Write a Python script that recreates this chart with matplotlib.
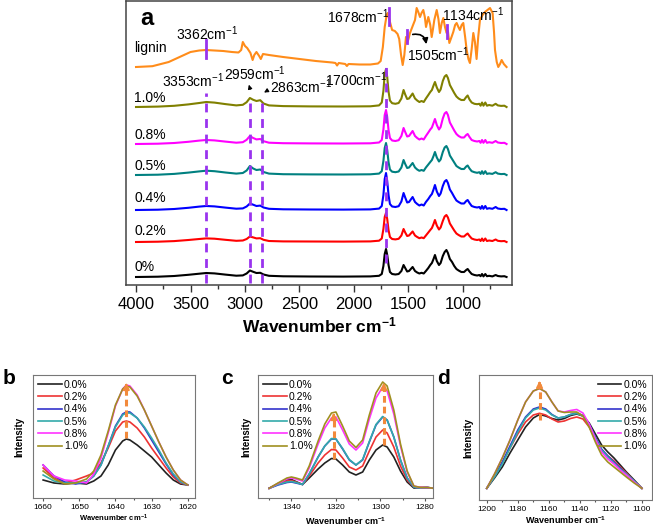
import numpy as np
import matplotlib
matplotlib.use("Agg")
import matplotlib.pyplot as plt
from matplotlib.ticker import MultipleLocator

plt.rcParams['font.family'] = ['Liberation Sans', 'DejaVu Sans']
plt.rcParams['mathtext.fontset'] = 'custom'
plt.rcParams['mathtext.rm'] = 'Liberation Sans'
plt.rcParams['mathtext.it'] = 'Liberation Sans:italic'
plt.rcParams['mathtext.bf'] = 'Liberation Sans:bold'
plt.rcParams['mathtext.default'] = 'regular'

# ---- panel a: stacked FTIR spectra (heights) ----
poly_wn = [4000, 3800, 3650, 3520, 3420, 3355, 3280, 3180, 3080, 3020,
           2985, 2955, 2925, 2895, 2860, 2830, 2780, 2650, 2400, 2100,
           1850, 1770, 1745, 1730, 1718, 1706, 1695, 1683, 1670, 1650,
           1620, 1590, 1565, 1545, 1530, 1512, 1495, 1462, 1440, 1420,
           1400, 1380, 1360, 1340, 1318, 1300, 1285, 1270, 1257, 1240,
           1220, 1205, 1185, 1168, 1152, 1138, 1120, 1100, 1080, 1060,
           1040, 1015, 990, 970, 957, 940, 920, 895, 870, 850,
           838, 825, 812, 795, 780, 760, 730, 700, 680, 650,
           620, 600]
p0 = [0, 0.3, 1.0, 2.2, 3.3, 4.0, 3.6, 2.4, 1.3, 1.6,
      3.5, 6.5, 5.2, 4.0, 4.2, 2.5, 1.2, 0.7, 0.5, 0.4,
      0.6, 1.2, 3, 11, 23, 28, 22, 12, 5, 3,
      2.5, 3, 6, 12, 9, 5.5, 6, 10, 6, 4.5,
      3.5, 4.2, 3.5, 6, 9, 12, 14, 18, 22, 16,
      12, 14, 21, 25, 27, 24, 18, 15, 11, 8,
      6.5, 5, 5, 7, 8, 5.5, 3, 2, 1.5, 2,
      0.8, 3, 0.6, 3, 0.8, 1.2, 0.6, 2, 1, 0.6,
      0.8, 0]
p2 = [0, 0.3, 0.9, 2.0, 3.0, 3.6, 3.3, 2.2, 1.2, 1.5,
      3.0, 5.5, 4.6, 3.6, 3.8, 2.2, 1.0, 0.6, 0.5, 0.4,
      0.6, 1.3, 3.5, 13, 25, 29, 23, 12, 5, 3,
      2.6, 3.2, 6.5, 13, 9.5, 6, 6.5, 10.5, 6.5, 5,
      3.8, 4.5, 3.8, 6.5, 9.5, 12, 14, 18, 22, 16.5,
      12.5, 14.5, 21, 25.5, 27, 24.5, 18.5, 15, 11.5, 8.5,
      7, 5.5, 5.5, 7.5, 8.5, 6, 3.5, 2.5, 2, 2.5,
      1, 3.5, 1, 3.5, 1, 1.5, 1, 2.5, 1.2, 0.8,
      1, 0]
p4 = [0, 0.3, 1.0, 2.2, 3.4, 4.0, 3.6, 2.4, 1.3, 1.6,
      3.5, 6.5, 5.3, 4.0, 4.4, 2.5, 1.2, 0.7, 0.5, 0.4,
      0.6, 1.4, 4, 15, 31, 37, 29, 15, 6, 3.5,
      3, 3.8, 8.5, 17, 12.5, 7.5, 8, 13, 8, 6,
      4.5, 5.5, 4.5, 8, 11, 14, 16, 20.5, 25, 18.5,
      14, 16.5, 24, 28.5, 30, 27, 20.5, 17, 13, 9.5,
      8, 6.5, 6.5, 9, 10, 7, 4, 3, 2.5, 3,
      1.2, 4, 1.2, 4, 1.2, 1.8, 1.2, 3, 1.5, 1,
      1.2, 0]
p5 = [0, 0.3, 1.1, 2.4, 3.6, 4.3, 3.8, 2.5, 1.4, 2.0,
      4.5, 9, 6.5, 5.0, 5.5, 3.0, 1.4, 0.8, 0.6, 0.5,
      0.7, 1.4, 3.8, 14, 27, 32, 25, 13, 5.5, 3.3,
      2.8, 3.5, 7.5, 15, 11, 7, 7.5, 12, 7.5, 5.5,
      4.2, 5, 4.2, 7.5, 10.5, 13, 15, 19, 23, 17.5,
      13.5, 15.5, 23, 27.5, 29, 26, 19.5, 16, 12.5, 9,
      7.5, 6, 6, 8.5, 9.5, 6.5, 3.8, 2.8, 2.2, 2.8,
      1.1, 3.8, 1.1, 3.8, 1.1, 1.6, 1.1, 2.8, 1.4, 0.9,
      1.1, 0]
p8 = [0, 0.3, 1.0, 2.2, 3.4, 4.0, 3.6, 2.4, 1.3, 1.8,
      4.2, 8, 6, 4.6, 5, 2.8, 1.3, 0.8, 0.6, 0.5,
      0.7, 1.5, 4, 14.5, 29, 34, 27, 14, 6, 3.5,
      3, 3.8, 8, 16, 12, 7.5, 8, 13, 8, 6,
      4.5, 5.5, 4.5, 8, 11.5, 14.5, 16.5, 21, 25, 19,
      14.5, 17, 25.5, 30.5, 32, 29, 21.5, 17.5, 13.5, 10,
      8, 6.5, 6.5, 9, 10, 7, 4, 3, 2.5, 3,
      1.2, 4, 1.2, 4, 1.2, 1.8, 1.2, 3, 1.5, 1,
      1.2, 0]
p10 = [0, 0.4, 1.2, 2.6, 4.0, 5.0, 4.4, 2.9, 1.6, 2.2,
       4.8, 9, 7.2, 6.0, 6.8, 3.5, 1.6, 0.9, 0.6, 0.5,
       0.7, 1.6, 4.5, 16, 33, 38, 30, 15.5, 6.5, 3.8,
       3.2, 4, 8.5, 17, 12.5, 8, 8.5, 13.5, 8.5, 6.5,
       5, 6, 5, 8.5, 12, 15, 17, 21.5, 25, 19.5,
       15, 17.5, 26, 30.5, 32, 29, 22, 18, 14, 10.5,
       8.5, 7, 7, 10, 11.5, 7.5, 4.5, 3.2, 2.8, 3.2,
       1.3, 4.5, 1.3, 4.5, 1.3, 2, 1.3, 3.2, 1.6, 1.1,
       1.3, 0]

lig_wn = [4000, 3850, 3700, 3600, 3500, 3420, 3358, 3280, 3200, 3120,
          3060, 3035, 3020, 3000, 2980, 2950, 2930, 2915, 2895, 2870,
          2855, 2835, 2780, 2650, 2500, 2350, 2200, 2170, 2155, 2140,
          2080, 2065, 2050, 1950, 1850, 1780, 1755, 1735, 1718, 1700,
          1690, 1679, 1665, 1650, 1625, 1600, 1585, 1568, 1553, 1538,
          1523, 1512, 1500, 1486, 1465, 1440, 1425, 1410, 1394, 1380,
          1364, 1350, 1339, 1318, 1300, 1287, 1275, 1263, 1241, 1225,
          1211, 1195, 1180, 1165, 1150, 1138, 1125, 1105, 1089, 1072,
          1058, 1042, 1028, 1012, 997, 980, 966, 950, 936, 920,
          905, 890, 875, 860, 844, 820, 798, 775, 752, 728,
          715, 706, 690, 676, 660, 645, 625, 600]
lignin = [0, 0.8, 5, 10, 15, 16.5, 17, 16.5, 16, 15,
          14.5, 17, 25, 21, 19, 14, 7, 12, 15, 11,
          8, 13, 12, 10, 8, 6, 4.5, 4, 1.5, 4,
          3, 1, 3, 2.5, 2.5, 3.5, 6, 20, 40, 52,
          54, 49, 43, 37, 36, 33, 28, 12, 2, 12,
          30, 24, 28, 34, 40, 47, 59, 55, 50, 54,
          57, 50, 40, 50, 42, 30, 38, 47, 57, 48,
          34, 44, 49, 40, 34, 36, 24, 30, 35, 42,
          44, 40, 37, 42, 44, 30, 17, 8, 4, 18,
          34, 25, 8, 30, 47, 52, 55, 57, 59, 54,
          35, 17, 5, 0, 3, 7, 3, 0]

spectra = [p0, p2, p4, p5, p8, p10]
labels_a = ['0%', '0.2%', '0.4%', '0.5%', '0.8%', '1.0%']
offsets = [8, 43, 75, 110, 141, 178]
lignin_offset = 218
label_y = [18, 54, 87, 119, 150, 187]

colors_a = ['#000000', '#ff0000', '#0000ff', '#008080', '#ff00ff', '#808000']
lignin_color = '#ff8c1a'
purple = '#9933ee'

# ---- panels b, c, d: zoomed bands ----
leg_labels = ['0.0%', '0.2%', '0.4%', '0.5%', '0.8%', '1.0%']
colors_s = ['#222222', '#ee3333', '#3333cc', '#33aaaa', '#ff33ff', '#a09020']
arrow_color = '#f28a3c'

b_wn = [1660, 1657, 1654, 1651, 1648, 1646, 1644, 1642, 1640, 1638,
        1637, 1636, 1634, 1632, 1630, 1628, 1626, 1624, 1622, 1620]
b_vals = [
    [18, 15, 14, 15, 14, 17, 22, 33, 48, 57, 59, 58, 53, 47, 41, 33, 25, 18, 14, 13],
    [30, 20, 15, 18, 22, 25, 35, 50, 67, 76, 77, 76, 70, 61, 50, 40, 30, 21, 15, 13],
    [33, 22, 16, 14, 16, 22, 33, 52, 72, 84, 86, 86, 80, 70, 58, 46, 34, 23, 16, 13],
    [23, 17, 15, 15, 16, 22, 33, 52, 71, 83, 85, 85, 80, 71, 60, 48, 35, 24, 16, 13],
    [33, 22, 18, 17, 15, 24, 40, 65, 92, 109, 113, 112, 103, 88, 72, 56, 41, 28, 18, 13],
    [27, 19, 14, 15, 19, 27, 43, 67, 93, 109, 112, 111, 102, 88, 72, 56, 41, 28, 18, 13],
]

c_wn = [1350, 1346, 1342, 1340, 1338, 1335, 1332, 1328, 1325, 1322,
        1320, 1317, 1314, 1311, 1308, 1305, 1302, 1299, 1297, 1294,
        1291, 1288, 1285, 1282, 1279, 1276]
c_vals = [
    [9.7, 14.5, 18, 18.5, 16.5, 13.5, 20, 29, 35, 39.5, 39, 33, 26, 23, 26, 38, 48, 53, 51, 41, 27, 16, 10, 10.5, 10.5, 9.7],
    [9.7, 14, 17, 17.5, 16, 13.5, 22, 35, 43, 48.5, 48, 40, 31, 28, 32, 47, 61, 68, 65, 51, 32, 18, 11, 10.5, 10.5, 9.7],
    [9.7, 13, 15.5, 16, 15, 13.5, 24, 41, 52, 59, 59, 49, 38, 33, 38, 56, 73, 81, 78, 61, 38, 20, 11, 10, 10.5, 9.7],
    [9.7, 13.5, 16, 16.5, 15.5, 13.5, 24, 41, 52, 59.5, 59, 49.5, 38.5, 33, 38.5, 56.5, 73.5, 81.5, 78, 61, 38, 20, 11, 10, 10.5, 9.7],
    [9.7, 14.5, 19, 20, 19, 17, 30, 54, 70, 80, 81, 68, 54, 48, 55, 79, 100, 111, 107, 84, 52, 26, 12, 10.5, 10.5, 9.7],
    [9.7, 15, 20, 21, 20, 18, 32, 57, 74, 85, 86, 72, 57, 50.5, 58, 83, 105, 116, 112, 88, 54, 27, 12, 10.5, 10.5, 9.7],
]

d_wn = [1200, 1195, 1190, 1185, 1180, 1175, 1170, 1166, 1162, 1158,
        1154, 1150, 1146, 1142, 1138, 1134, 1130, 1126, 1122, 1118,
        1114, 1110, 1105, 1100]
d_vals = [
    [11.7, 22, 33, 47, 60, 73, 82, 85.5, 84, 81.5, 80, 81.5, 84.5, 86, 84, 77, 66, 55, 48, 42, 35, 28, 20, 11.7],
    [11.7, 24, 37, 52, 66, 78, 85, 86.7, 85, 81, 78, 79, 81.5, 83, 81, 73, 61, 50, 44, 39, 33, 27, 19, 11.7],
    [11.7, 25, 38, 54, 70, 83, 91, 93, 91, 85.5, 82, 83, 85.5, 87, 84.5, 76, 63, 51, 44, 38, 32, 26, 19, 11.7],
    [11.7, 23, 36, 52, 68, 82, 90, 92, 90, 85, 82, 83, 85.5, 86.5, 84, 75, 62, 50, 43, 37, 31, 26, 19, 11.7],
    [11.7, 26, 42, 60, 80, 98, 109, 111.5, 108, 98, 89, 88, 89.5, 90.5, 87, 76, 61, 48, 41, 36, 30, 25, 18, 11.7],
    [11.7, 26, 42, 60, 80, 98, 109, 111.5, 108, 98, 89, 87.5, 88, 88, 84, 73, 58, 45, 38, 33, 28, 23, 17, 11.7],
]

W, H = 653, 526
fig = plt.figure(figsize=(W / 100, H / 100), dpi=100)


def px_rect(x0, y0, x1, y1):
    return [x0 / W, 1 - y1 / H, (x1 - x0) / W, (y1 - y0) / H]


# ---------------- panel a ----------------
ax = fig.add_axes(px_rect(126, 1, 512, 285))
for spec, off, col, lab, ly in zip(spectra, offsets, colors_a, labels_a, label_y):
    ax.plot(poly_wn, np.array(spec) + off, color=col, lw=1.5, zorder=2)
    ax.text(4015, ly, lab, fontsize=10, ha='left', va='center')
ax.plot(lig_wn, np.array(lignin) + lignin_offset, color=lignin_color, lw=1.5, zorder=2)
ax.text(4015, 237, 'lignin', fontsize=10, ha='left', va='center')

# purple markers
dash = (0, (3.2, 2.4))
ax.plot([3358, 3358], [2, 192], color=purple, lw=2, ls=dash, zorder=3)
ax.plot([2955, 2955], [2, 185], color=purple, lw=2, ls=dash, zorder=3)
ax.plot([2847, 2847], [2, 185], color=purple, lw=2, ls=dash, zorder=3)
ax.plot([1706, 1706], [22, 220], color=purple, lw=2, ls=dash, zorder=3)
for xw, y0, y1 in [(3358, 227, 245), (1679, 260, 277), (1516, 242, 255), (1150, 247, 260)]:
    ax.plot([xw, xw], [y0, y1], color=purple, lw=2, zorder=3)

ann = [('3362', 3633, 251), ('3353', 3761, 204), ('2959', 3193, 211),
       ('2863', 2771, 198), ('1700', 2266, 205), ('1678', 2248, 268),
       ('1505', 1514, 230), ('1134', 1193, 270)]
for num, xw, yy in ann:
    ax.text(xw, yy, num + r'cm$^{-1}$', fontsize=10, ha='left', va='center', zorder=4)

ax.annotate('', xy=(2972, 203), xytext=(2945, 193),
            arrowprops=dict(arrowstyle='-|>', color='k', lw=0.8, mutation_scale=6))
ax.annotate('', xy=(2847, 191), xytext=(2771, 196),
            arrowprops=dict(arrowstyle='-|>', color='k', lw=0.8, mutation_scale=6))
ax.annotate('', xy=(1333, 238), xytext=(1486, 250),
            arrowprops=dict(arrowstyle='-|>', color='k', lw=1.2, mutation_scale=8,
                            connectionstyle='arc3,rad=-0.6'))

ax.text(0.037, 0.94, 'a', transform=ax.transAxes, fontsize=17, fontweight='bold',
        ha='left', va='center')

ax.set_xlim(4092, 550)
ax.set_ylim(0, 284)
ax.set_yticks([])
ax.set_xticks([4000, 3500, 3000, 2500, 2000, 1500, 1000])
ax.xaxis.set_minor_locator(MultipleLocator(250))
ax.tick_params(axis='x', which='major', direction='out', length=5, width=1,
               labelsize=12, colors='#333333', labelcolor='black')
ax.tick_params(axis='x', which='minor', direction='out', length=3, width=1, colors='#333333')
for s in ax.spines.values():
    s.set_color('#444444')
    s.set_linewidth(1.1)
ax.set_xlabel(r'Wavenumber cm$^{\mathbf{-1}}$', fontsize=12.5, fontweight='bold', labelpad=3)


# ---------------- small panels ----------------
def small_panel(rect, wn, vals, xlim, ylim, xticks, minor, leg_loc, ylpad, xlpad, xlsize):
    a = fig.add_axes(rect)
    for v, col, lab in zip(vals, colors_s, leg_labels):
        a.plot(wn, v, color=col, lw=1.2, label=lab)
    a.set_xlim(*xlim)
    a.set_ylim(*ylim)
    a.set_yticks([])
    a.set_xticks(xticks)
    a.xaxis.set_minor_locator(MultipleLocator(minor))
    a.tick_params(axis='x', which='major', direction='out', length=2.5, width=0.8,
                  labelsize=6, pad=2, colors='#555555', labelcolor='black')
    a.tick_params(axis='x', which='minor', direction='out', length=1.5, width=0.8, colors='#555555')
    for s in a.spines.values():
        s.set_color('#777777')
        s.set_linewidth(0.8)
    a.set_ylabel('Intensity', fontsize=7, fontweight='bold', labelpad=ylpad)
    a.set_xlabel(r'Wavenumber cm$^{\mathbf{-1}}$', fontsize=xlsize, fontweight='bold', labelpad=xlpad)
    a.legend(loc=leg_loc, fontsize=7.5, frameon=False, handlelength=2.3,
             handletextpad=0.2, labelspacing=0.22, borderaxespad=0.15, borderpad=0.3)
    return a


def orange_arrow(a, xw, y0, y1):
    a.plot([xw, xw], [y0, y1 - 6], color=arrow_color, lw=2.2, ls=(0, (2.2, 1.3)), zorder=5)
    a.annotate('', xy=(xw, y1), xytext=(xw, y1 - 9),
               arrowprops=dict(arrowstyle='-|>', color=arrow_color, lw=1.5, mutation_scale=9),
               zorder=5)


ab = small_panel(px_rect(33, 375, 195, 498), b_wn, b_vals, (1662.8, 1618), (0, 123),
                 [1660, 1650, 1640, 1630, 1620], 5, 'upper left', 6, 1, 5.5)
orange_arrow(ab, 1637, 60, 118)

ac = small_panel(px_rect(258, 375, 433, 498), c_wn, c_vals, (1355, 1276.4), (0, 123),
                 [1340, 1320, 1300, 1280], 10, 'upper left', 5, 3, 6.5)
orange_arrow(ac, 1321, 39, 88)
orange_arrow(ac, 1298.5, 53, 118)

ad = small_panel(px_rect(479, 375, 652, 500), d_wn, d_vals, (1205, 1093.5), (0, 125),
                 [1200, 1180, 1160, 1140, 1120, 1100], 10, 'upper right', 4, 0.5, 6.5)
orange_arrow(ad, 1166, 80, 122)

for letter, xp in [('b', 3), ('c', 221), ('d', 437)]:
    fig.text(xp / W, 1 - 388 / H, letter, fontsize=15, fontweight='bold', ha='left', va='bottom')

fig.savefig('out.png', dpi=100)
